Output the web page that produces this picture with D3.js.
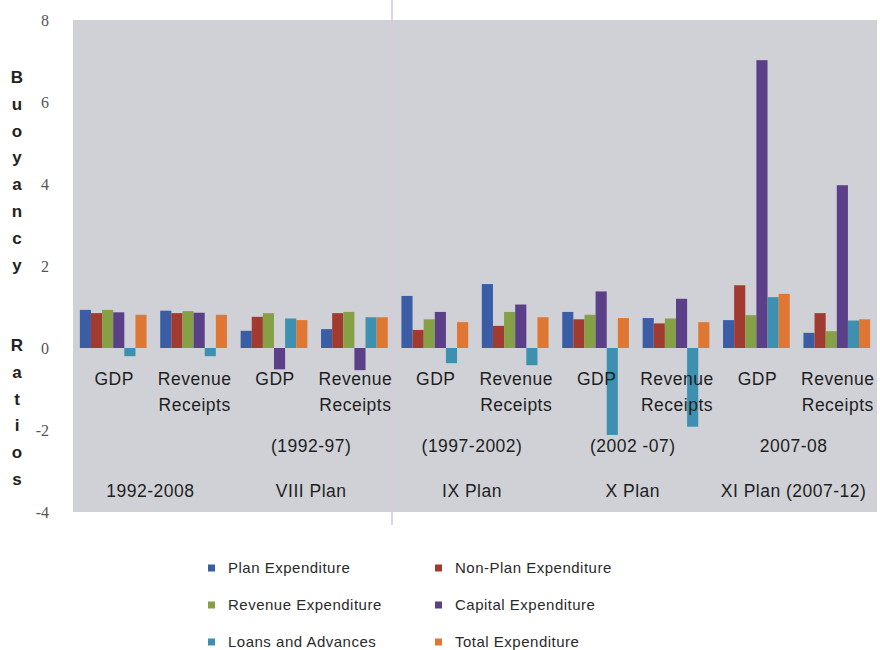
<!DOCTYPE html>
<html lang="en">
<head>
<meta charset="UTF-8">
<title>Buoyancy Ratios</title>
<script src="https://cdn.jsdelivr.net/npm/d3@7"></script>
<style>
  body { margin: 0; background: #fff; }
  svg { display: block; }
</style>
</head>
<body>
<svg id="chart"></svg>
<script>
// categories along x (each pair belongs to a plan period)
const groupIds = ["g1", "g2", "g3", "g4", "g5", "g6", "g7", "g8", "g9", "g10"]
const groupLabels = ["GDP", "Revenue Receipts", "GDP", "Revenue Receipts", "GDP", "Revenue Receipts", "GDP", "Revenue Receipts", "GDP", "Revenue Receipts"]
const periodYears = ["", "(1992-97)", "(1997-2002)", "(2002 -07)", "2007-08"]
const periodNames = ["1992-2008", "VIII Plan", "IX Plan", "X Plan", "XI Plan (2007-12)"]

// series
const seriesNames = ["Plan Expenditure", "Non-Plan Expenditure", "Revenue Expenditure", "Capital Expenditure", "Loans and Advances", "Total Expenditure"]
const planExp = [0.93, 0.91, 0.42, 0.46, 1.27, 1.56, 0.88, 0.73, 0.68, 0.37]
const nonPlanExp = [0.85, 0.85, 0.76, 0.85, 0.44, 0.54, 0.70, 0.60, 1.53, 0.85]
const revenueExp = [0.93, 0.90, 0.85, 0.88, 0.70, 0.88, 0.81, 0.72, 0.80, 0.41]
const capitalExp = [0.87, 0.86, -0.52, -0.54, 0.88, 1.06, 1.38, 1.20, 7.02, 3.97]
const loansAdv = [-0.20, -0.20, 0.72, 0.75, -0.37, -0.42, -2.12, -1.92, 1.24, 0.67]
const totalExp = [0.81, 0.81, 0.68, 0.75, 0.63, 0.75, 0.73, 0.63, 1.32, 0.70]
const seriesColors = ["#3b5da6", "#a13a2f", "#86a046", "#5b3f88", "#3d90b0", "#df7733"]

const yTicks = [-4, -2, 0, 2, 4, 6, 8]
const yTitle = "Buoyancy  Ratios"

const seriesValues = [planExp, nonPlanExp, revenueExp, capitalExp, loansAdv, totalExp]

const width = 880, height = 650
const plot = { left: 73, right: 877, top: 20, bottom: 512 }

const svg = d3.select('#chart')
    .attr('width', width)
    .attr('height', height)

const x0 = d3.scaleBand()
    .domain(groupIds)
    .range([plot.left, plot.right])
    .paddingInner(0.17)
    .paddingOuter(0.085)

const x1 = d3.scaleBand()
    .domain(d3.range(seriesNames.length))
    .range([0, x0.bandwidth()])

const y = d3.scaleLinear()
    .domain([-4, 8])
    .range([plot.bottom, plot.top])

const color = d3.scaleOrdinal().domain(d3.range(seriesNames.length)).range(seriesColors)

// plot background
svg.append('rect')
    .attr('x', plot.left)
    .attr('y', plot.top)
    .attr('width', plot.right - plot.left)
    .attr('height', plot.bottom - plot.top)
    .attr('fill', '#d0d1d6')

// faint scan line seen in the original
svg.append('line')
    .attr('x1', 392).attr('x2', 392)
    .attr('y1', 0).attr('y2', 525)
    .attr('stroke', '#dcc3de')
    .attr('stroke-width', 1.5)

// y axis labels (no line), plain hyphen for negatives
const yAxis = svg.append('g')
    .attr('transform', `translate(${plot.left - 24},0)`)
    .call(d3.axisLeft(y).tickValues(yTicks).tickSize(0).tickPadding(0).tickFormat(d => String(d)))
yAxis.select('.domain').remove()
yAxis.selectAll('text')
    .attr('font-family', '"Liberation Serif", "Times New Roman", serif')
    .attr('font-size', 16)
    .attr('fill', '#555')

// stacked vertical title
svg.append('g')
    .selectAll('text')
    .data(yTitle.split(''))
    .join('text')
    .attr('x', 17)
    .attr('y', (d, i) => 83 + i * 26.8)
    .attr('text-anchor', 'middle')
    .attr('font-family', '"Liberation Sans", Arial, sans-serif')
    .attr('font-weight', 'bold')
    .attr('font-size', 17)
    .attr('fill', '#222')
    .text(d => d)

// bars
const rows = groupIds.map((id, i) => ({ id, values: seriesValues.map(s => s[i]) }))
svg.append('g')
    .selectAll('g')
    .data(rows)
    .join('g')
    .attr('transform', d => `translate(${x0(d.id)},0)`)
    .selectAll('rect')
    .data(d => d.values.map((v, k) => ({ k, v })))
    .join('rect')
    .attr('x', d => x1(d.k))
    .attr('width', x1.bandwidth())
    .attr('y', d => y(Math.max(0, d.v)))
    .attr('height', d => Math.abs(y(d.v) - y(0)))
    .attr('fill', d => color(d.k))

// category labels under the zero line
const catText = svg.append('g')
    .attr('font-family', '"Liberation Sans", Arial, sans-serif')
    .attr('font-size', 17.5)
    .attr('letter-spacing', 0.5)
    .attr('fill', '#1e1e1e')
    .attr('text-anchor', 'middle')
groupIds.forEach((id, i) => {
    const cx = x0(id) + x0.bandwidth() / 2
    groupLabels[i].split(' ').forEach((w, j) => {
        catText.append('text')
            .attr('x', cx + 1)
            .attr('y', y(0) + 37 + j * 26)
            .text(w)
    })
})

// period labels centred under each pair
periodNames.forEach((name, p) => {
    const a = x0(groupIds[p * 2]), b = x0(groupIds[p * 2 + 1]) + x0.bandwidth()
    const cx = (a + b) / 2 - 3
    catText.append('text').attr('x', cx).attr('y', 452).text(periodYears[p])
    catText.append('text').attr('x', cx).attr('y', 497).text(name)
})

// legend
const legend = svg.append('g')
    .attr('font-family', '"Liberation Sans", Arial, sans-serif')
    .attr('font-size', 15)
    .attr('letter-spacing', 0.5)
    .attr('fill', '#2a2a2a')
const legendItems = legend.selectAll('g')
    .data(seriesNames)
    .join('g')
    .attr('transform', (d, i) => `translate(${i % 2 === 0 ? 208 : 435},${568 + Math.floor(i / 2) * 37})`)
legendItems.append('rect')
    .attr('x', 0).attr('y', -3.5)
    .attr('width', 7).attr('height', 7)
    .attr('fill', (d, i) => color(i))
legendItems.append('text')
    .attr('x', 20)
    .attr('dy', '0.36em')
    .text(d => d)
</script>
</body>
</html>
